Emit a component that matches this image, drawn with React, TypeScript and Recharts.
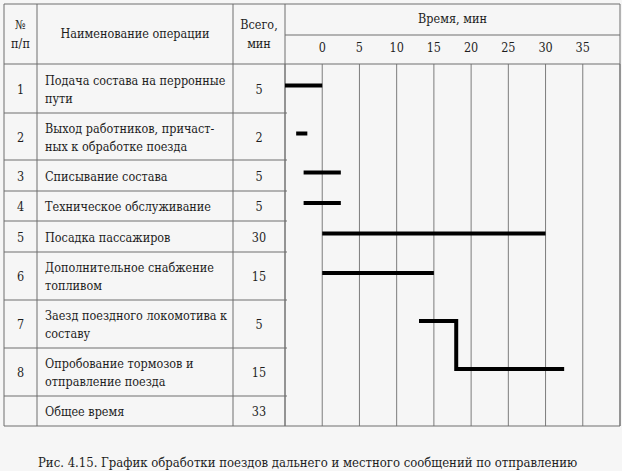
import React from 'react';
import { ComposedChart, Line, XAxis, YAxis, CartesianGrid, Customized } from 'recharts';

// operations table
const ROW_NUMS = ['1', '2', '3', '4', '5', '6', '7', '8', ''];
const ROW_NAMES = [
  ['Подача состава на перронные', 'пути'],
  ['Выход работников, причаст-', 'ных к обработке поезда'],
  ['Списывание состава'],
  ['Техническое обслуживание'],
  ['Посадка пассажиров'],
  ['Дополнительное снабжение', 'топливом'],
  ['Заезд поездного локомотива к', 'составу'],
  ['Опробование тормозов и', 'отправление поезда'],
  ['Общее время'],
];
const ROW_TOTALS = ['5', '2', '5', '5', '30', '15', '5', '15', '33'];

// gantt bars, minutes
const BAR_START = [-5, -3.5, -2.5, -2.5, 0, 0, 13, 18];
const BAR_END = [0, -2, 2.5, 2.5, 30, 15, 18, 32.5];
const TIME_TICKS = [0, 5, 10, 15, 20, 25, 30, 35];

// layout
const W = 622;
const H = 471;
const LEFT = 4;
const TOP = 4;
const RIGHT = 620;
const COL_NUM = 37;
const COL_TOTAL = 233;
const COL_TIME = 285;
const HEAD_MID = 35;
const ROW_EDGES = [64, 113, 160, 191, 221, 252, 300, 348, 396, 426];
const FONT = "'DejaVu Serif Condensed', 'DejaVu Serif', serif";
const TXT = '#1e1e1e';
const LINE = '#6f6f6f';
const textStyle = { fontFamily: FONT, fontStretch: 'condensed', fontSize: 12.5, fill: TXT };

const rowY = (i: number) => (ROW_EDGES[i] + ROW_EDGES[i + 1]) / 2 - ROW_EDGES[0] - 3;

const TimeTick = (props: any) => {
  const { x, payload } = props;
  return (
    <text x={x} y={52} textAnchor="middle" style={textStyle}>
      {payload.value}
    </text>
  );
};

const Table = () => {
  const bottom = ROW_EDGES[ROW_EDGES.length - 1];
  const mid = (a: number, b: number) => (a + b) / 2;
  return (
    <g>
      {/* borders */}
      <line x1={LEFT} y1={TOP} x2={RIGHT} y2={TOP} stroke={LINE} />
      <line x1={LEFT} y1={bottom} x2={RIGHT} y2={bottom} stroke={LINE} />
      <line x1={LEFT} y1={TOP} x2={LEFT} y2={bottom} stroke={LINE} />
      <line x1={RIGHT} y1={TOP} x2={RIGHT} y2={bottom} stroke={LINE} />
      <line x1={COL_NUM} y1={TOP} x2={COL_NUM} y2={bottom} stroke={LINE} />
      <line x1={COL_TOTAL} y1={TOP} x2={COL_TOTAL} y2={bottom} stroke={LINE} />
      <line x1={COL_TIME} y1={TOP} x2={COL_TIME} y2={bottom} stroke={LINE} />
      <line x1={COL_TIME} y1={HEAD_MID} x2={RIGHT} y2={HEAD_MID} stroke={LINE} />
      <line x1={LEFT} y1={ROW_EDGES[0]} x2={RIGHT} y2={ROW_EDGES[0]} stroke={LINE} />
      {ROW_EDGES.slice(1, -1).map((y) => (
        <line key={y} x1={LEFT} y1={y} x2={COL_TIME + 2} y2={y} stroke={LINE} />
      ))}

      {/* header */}
      <text x={mid(LEFT, COL_NUM)} y={29} textAnchor="middle" style={textStyle}>№</text>
      <text x={mid(LEFT, COL_NUM)} y={48} textAnchor="middle" style={textStyle}>п/п</text>
      <text x={mid(COL_NUM, COL_TOTAL)} y={38} textAnchor="middle" style={textStyle}>Наименование операции</text>
      <text x={mid(COL_TOTAL, COL_TIME)} y={29} textAnchor="middle" style={textStyle}>Всего,</text>
      <text x={mid(COL_TOTAL, COL_TIME)} y={48} textAnchor="middle" style={textStyle}>мин</text>
      <text x={mid(COL_TIME, RIGHT)} y={23} textAnchor="middle" style={textStyle}>Время, мин</text>

      {/* rows */}
      {ROW_NAMES.map((lines, i) => {
        const cy = mid(ROW_EDGES[i], ROW_EDGES[i + 1]);
        const y0 = cy + 5 - ((lines.length - 1) * 18) / 2;
        return (
          <g key={i}>
            <text x={mid(LEFT, COL_NUM)} y={cy + 5} textAnchor="middle" style={textStyle}>{ROW_NUMS[i]}</text>
            {lines.map((s, j) => (
              <text key={j} x={COL_NUM + 8} y={y0 + j * 18} style={textStyle}>{s}</text>
            ))}
            <text x={mid(COL_TOTAL, COL_TIME)} y={cy + 5} textAnchor="middle" style={textStyle}>{ROW_TOTALS[i]}</text>
          </g>
        );
      })}

      <text x={38} y={467} style={{ ...textStyle, fontSize: 13 }}>
        Рис. 4.15. График обработки поездов дальнего и местного сообщений по отправлению
      </text>
    </g>
  );
};

export default function App() {
  const plotH = ROW_EDGES[ROW_EDGES.length - 1] - ROW_EDGES[0];
  const axisH = 30;
  const bars = BAR_START.map((s, i) => [
    { x: s, y: rowY(i) },
    { x: BAR_END[i], y: rowY(i) },
  ]);
  // link between operation 7 end and operation 8 start
  const link = [
    { x: BAR_END[6], y: rowY(6) },
    { x: BAR_START[7], y: rowY(7) },
  ];
  return (
    <div style={{ position: 'absolute', left: 0, top: 0, width: W, height: H, background: '#f6f6f6', fontFamily: FONT }}>
      <ComposedChart
        width={W}
        height={H}
        margin={{ top: ROW_EDGES[0] - axisH, left: COL_TIME, right: W - RIGHT, bottom: H - ROW_EDGES[ROW_EDGES.length - 1] }}
      >
        <Customized component={Table} />
        <CartesianGrid horizontal={false} stroke={LINE} strokeOpacity={0.9} />
        <XAxis
          type="number"
          dataKey="x"
          domain={[-5, 40]}
          ticks={TIME_TICKS}
          orientation="top"
          height={axisH}
          axisLine={false}
          tickLine={false}
          tick={(p: any) => <TimeTick {...p} />}
          interval={0}
          allowDataOverflow
        />
        <YAxis type="number" domain={[0, plotH]} reversed hide allowDataOverflow />
        {bars.map((d, i) => (
          <Line
            key={i}
            data={d}
            dataKey="y"
            stroke="#000"
            strokeWidth={4}
            dot={false}
            activeDot={false}
            isAnimationActive={false}
          />
        ))}
        <Line
          data={link}
          dataKey="y"
          stroke="#000"
          strokeWidth={4}
          strokeLinecap="square"
          dot={false}
          activeDot={false}
          isAnimationActive={false}
        />
      </ComposedChart>
    </div>
  );
}
